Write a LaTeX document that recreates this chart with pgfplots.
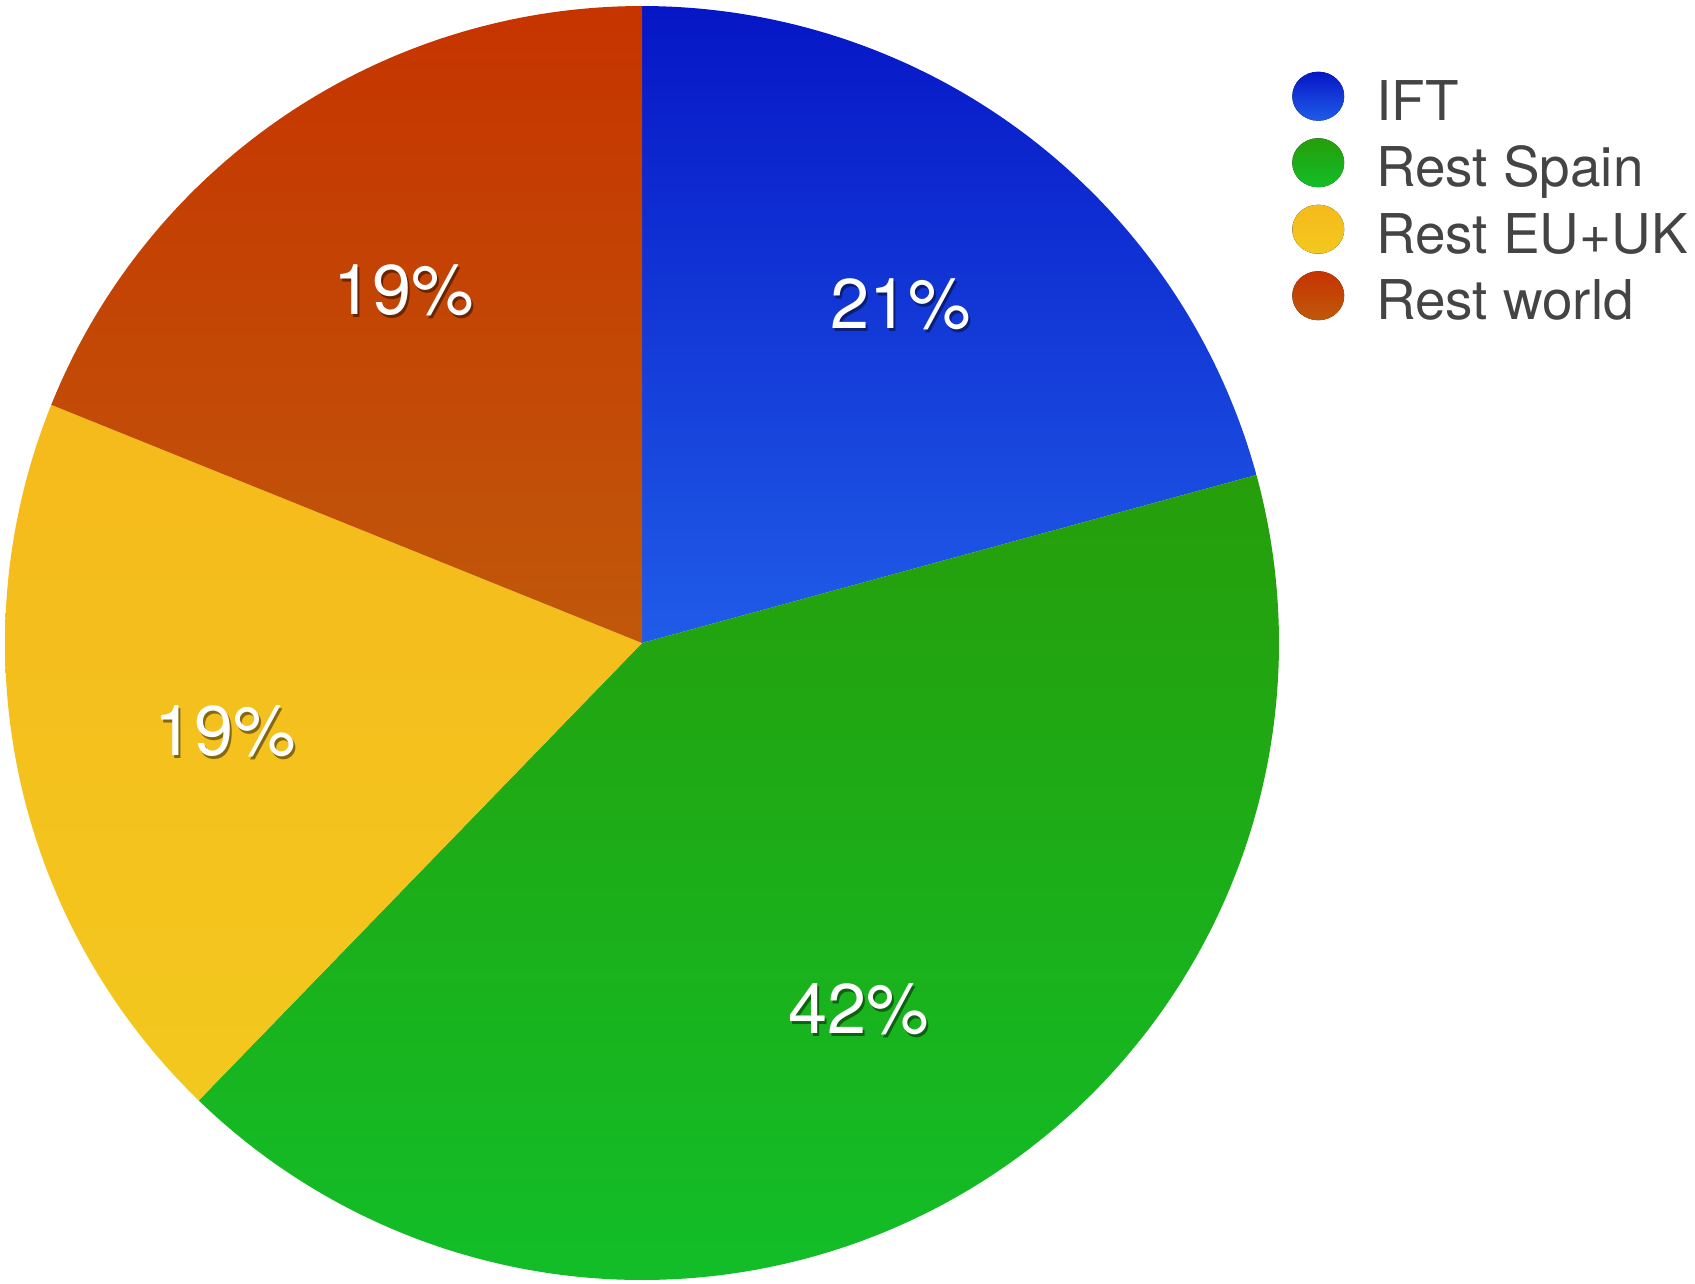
\documentclass[border=0pt]{standalone}
\usepackage{pgfplots}
\pgfplotsset{compat=1.18}
\usepackage{pgfplotstable}
\usepackage{fontspec}
\setmainfont{TeX Gyre Heros}

\definecolor{bluetop}{RGB}{6,22,198}
\definecolor{bluemid}{RGB}{6,24,202}
\definecolor{bluebot}{RGB}{32,92,232}
\definecolor{greentop}{RGB}{38,158,10}
\definecolor{greenbot}{RGB}{18,190,40}
\definecolor{yeltop}{RGB}{245,186,28}
\definecolor{yelbot}{RGB}{243,200,30}
\definecolor{redtop}{RGB}{198,52,0}
\definecolor{redmid}{RGB}{198,62,2}
\definecolor{redbot}{RGB}{192,88,10}
\definecolor{legtext}{RGB}{68,68,68}

\pgfplotstableread{
name value
IFT 20.75
RestSpain 41.5
RestEUUK 18.85
RestWorld 18.9
}\piedata

\pgfplotstablegetelem{0}{value}\of\piedata\let\vA\pgfplotsretval
\pgfplotstablegetelem{1}{value}\of\piedata\let\vB\pgfplotsretval
\pgfplotstablegetelem{2}{value}\of\piedata\let\vC\pgfplotsretval
\pgfplotstablegetelem{3}{value}\of\piedata\let\vD\pgfplotsretval

\pgfmathsetmacro\aA{90}
\pgfmathsetmacro\aB{\aA-3.6*\vA}
\pgfmathsetmacro\aC{\aB-3.6*\vB}
\pgfmathsetmacro\aD{\aC-3.6*\vC}
\pgfmathsetmacro\aE{\aD-3.6*\vD}

\def\cx{642}
\def\cy{640}
\def\R{637}
\def\Rl{426}

\newcommand\pielabel[2]{%
  \pgfmathsetmacro\lx{\cx+\Rl*cos(#1)}%
  \pgfmathsetmacro\ly{\cy+\Rl*sin(#1)}%
  \pgfmathsetmacro\sx{\lx+2}%
  \pgfmathsetmacro\sy{\ly-3}%
  \edef\temp{%
    \noexpand\node[text=black, opacity=0.45, font=\noexpand\labfont] at (axis cs:\sx,\sy) {#2};
    \noexpand\node[text=white, font=\noexpand\labfont] at (axis cs:\lx,\ly) {#2};
  }\temp
}
\newcommand\labfont{\fontsize{20}{24}\selectfont}

\begin{document}
\begin{tikzpicture}
\begin{axis}[
  scale only axis,
  width=16.95cm, height=12.83cm,
  xmin=0, xmax=1695, ymin=0, ymax=1283,
  hide axis,
  clip=false,
  legend cell align=left,
  legend style={at={(axis cs:1281,1219)}, anchor=north west, draw=none, fill=none,
    font=\fontsize{15.6}{18}\selectfont, text=legtext,
    nodes={inner sep=0pt, text height=0.42cm, text depth=0.18cm},
    column sep=0.32cm, row sep=0pt},
  legend image code/.code={\fill[#1] (0.26cm,0.12cm) ellipse [x radius=0.26cm, y radius=0.245cm];},
]
\addplot[draw=none, top color=bluetop, middle color=bluemid, bottom color=bluebot,
  domain=\aB:\aA, samples=120, variable=\t]
  ({\cx+\R*cos(\t)},{\cy+\R*sin(\t)}) -- (axis cs:\cx,\cy) -- cycle;
\addlegendentry{IFT}
\addplot[draw=none, top color=greentop, bottom color=greenbot,
  domain=\aC:\aB, samples=200, variable=\t]
  ({\cx+\R*cos(\t)},{\cy+\R*sin(\t)}) -- (axis cs:\cx,\cy) -- cycle;
\addlegendentry{Rest Spain}
\addplot[draw=none, top color=yeltop, middle color=yeltop, bottom color=yelbot,
  domain=\aD:\aC, samples=120, variable=\t]
  ({\cx+\R*cos(\t)},{\cy+\R*sin(\t)}) -- (axis cs:\cx,\cy) -- cycle;
\addlegendentry{Rest EU+UK}
\addplot[draw=none, top color=redtop, middle color=redmid, bottom color=redbot,
  domain=\aE:\aD, samples=120, variable=\t]
  ({\cx+\R*cos(\t)},{\cy+\R*sin(\t)}) -- (axis cs:\cx,\cy) -- cycle;
\addlegendentry{Rest world}

\pgfmathsetmacro\mA{(\aA+\aB)/2}
\pgfmathsetmacro\mB{(\aB+\aC)/2}
\pgfmathsetmacro\mC{(\aC+\aD)/2}
\pgfmathsetmacro\mD{(\aD+\aE)/2}
\pielabel{\mA}{21\%}
\pielabel{\mB}{42\%}
\pielabel{\mC}{19\%}
\pielabel{\mD}{19\%}
\end{axis}
\pgfresetboundingbox
\useasboundingbox (0,0) rectangle (16.95cm,12.83cm);
\end{tikzpicture}
\end{document}
